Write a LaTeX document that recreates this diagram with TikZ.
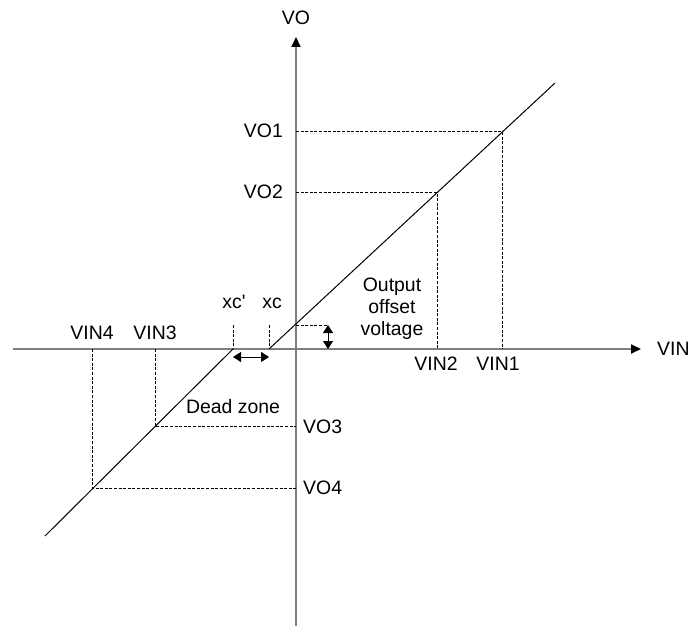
\documentclass[tikz,border=0pt]{standalone}
\usepackage{fontspec}
\setmainfont{Liberation Sans}
\usetikzlibrary{arrows.meta}
\definecolor{axisgray}{HTML}{7F7F7F}
\begin{document}
\begin{tikzpicture}[x=1bp,y=-1bp,
  axis/.style={draw=axisgray,line width=1.8bp,-{Triangle[length=10bp,width=9bp,color=black]}},
  guide/.style={draw=black,line width=0.8bp,dash pattern=on 3bp off 1.6bp},
  curve/.style={draw=black,line width=1bp},
  lbl/.style={font=\fontsize{19.5}{22}\selectfont,inner sep=0pt},
  dim/.style={draw=black,line width=1bp,{Triangle[length=8bp,width=10bp]}-{Triangle[length=8bp,width=10bp]}}]
\useasboundingbox (0,0) rectangle (691,626);
% axes
\coordinate (xs) at (13,349);
\coordinate (xe) at (641,349);
\coordinate (ys) at (296,626);
\coordinate (ye) at (296,37);
\draw[axis] (xs) -- (xe);
\draw[axis] (ys) -- (ye);
% characteristic
\coordinate (xc) at (269,349);
\coordinate (xcp) at (233,349);
\coordinate (top) at (555,83);
\coordinate (bot) at (45,536);
\draw[curve] (xc) -- (top);
\draw[curve] (xcp) -- (bot);
% points
\coordinate (p1) at (502,131);
\coordinate (p2) at (437,192);
\coordinate (p3) at (155,426);
\coordinate (p4) at (92,488);
\coordinate (a1) at (296,131);
\coordinate (a2) at (296,192);
\coordinate (a3) at (296,426);
\coordinate (a4) at (296,488);
\coordinate (b1) at (502,349);
\coordinate (b2) at (437,349);
\coordinate (b3) at (155,349);
\coordinate (b4) at (92,349);
\draw[guide] (a1) -- (p1) -- (b1);
\draw[guide] (a2) -- (p2) -- (b2);
\draw[guide] (b3) -- (p3) -- (a3);
\draw[guide] (b4) -- (p4) -- (a4);
% offset
\coordinate (of) at (296,325);
\coordinate (ofr) at (328,325);
\coordinate (ofb) at (328,349);
\draw[guide] (of) -- (ofr);
\draw[dim] (ofr) -- (ofb);
% dead zone markers
\coordinate (xct) at (269,325);
\coordinate (xcpt) at (233,325);
\draw[guide] (xct) -- (xc);
\draw[guide] (xcpt) -- (xcp);
\coordinate (dl) at (233,357);
\coordinate (dr) at (269,357);
\draw[dim] (dl) -- (dr);
% labels
\node[lbl] (lvo) at (296,18) {VO};
\node[lbl,anchor=east] (lvo1) at (283,131) {VO1};
\node[lbl,anchor=east] (lvo2) at (283,192) {VO2};
\node[lbl,anchor=west] (lvo3) at (303,427) {VO3};
\node[lbl,anchor=west] (lvo4) at (303,488) {VO4};
\node[lbl,anchor=west] (lvin) at (657,349) {VIN};
\node[lbl] (lvin1) at (498,364) {VIN1};
\node[lbl] (lvin2) at (436,364) {VIN2};
\node[lbl] (lvin3) at (155,333) {VIN3};
\node[lbl] (lvin4) at (92,333) {VIN4};
\node[lbl,anchor=base] (lxcp) at (234,308) {xc\textquotesingle};
\node[lbl,anchor=base] (lxc) at (272,308) {xc};
\node[lbl,align=center,font=\fontsize{19.5}{22}\selectfont] (loff) at (392,309) {Output\\offset\\voltage};
\node[lbl] (ldz) at (233,407) {Dead zone};
\end{tikzpicture}
\end{document}
